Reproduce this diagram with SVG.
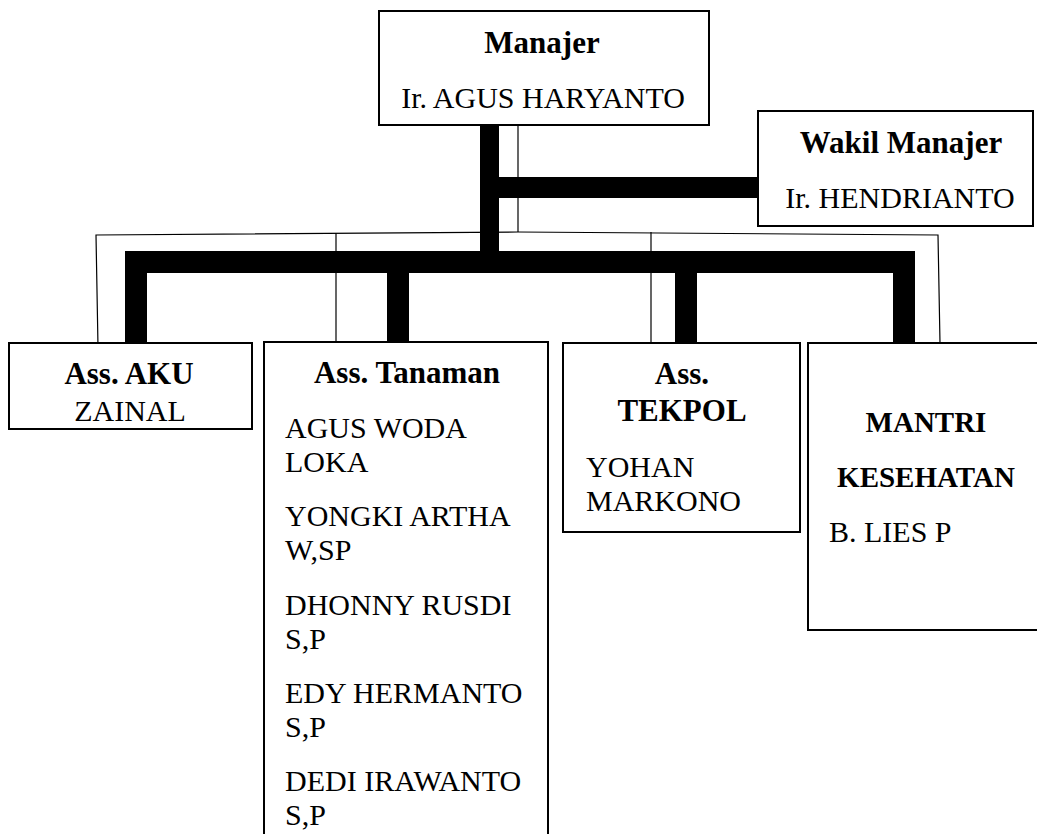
<svg xmlns="http://www.w3.org/2000/svg" width="1037" height="834" viewBox="0 0 1037 834">
<style>
.box{fill:#fff;stroke:#000;stroke-width:2}
.t{font-family:"Liberation Serif","Tinos","Times New Roman","Nimbus Roman","DejaVu Serif",serif;font-size:30px;font-weight:normal;font-style:normal;fill:#000}
.b{font-weight:bold;font-size:31px}
.c{text-anchor:middle}
.thin{fill:none;stroke:#000;stroke-width:1.2}
.thick{fill:#000;stroke:none}
</style>
<rect width="1037" height="834" fill="#fff"/>
<g id="connectors">
<path class="thin" d="M98,347 L96,235 L518,232 L938,235 L940,343"/>
<path class="thin" d="M518,125 L518,232"/>
<path class="thin" d="M336,233 L336,341"/>
<path class="thin" d="M651,232 L651,342"/>
<rect class="thick" x="480" y="125" width="19" height="148"/>
<rect class="thick" x="499" y="177" width="259" height="21"/>
<rect class="thick" x="125" y="251" width="790" height="22"/>
<rect class="thick" x="125" y="251" width="22" height="92"/>
<rect class="thick" x="387" y="251" width="22" height="92"/>
<rect class="thick" x="675" y="251" width="22" height="96"/>
<rect class="thick" x="893" y="251" width="22" height="92"/>
</g>
<g id="manajer">
<rect class="box" x="379" y="11" width="330" height="114"/>
<text class="t b c" x="542" y="53">Manajer</text>
<text class="t c" x="543" y="108">Ir. AGUS HARYANTO</text>
</g>
<g id="wakil">
<rect class="box" x="758" y="111" width="275" height="115"/>
<text class="t b c" x="901" y="153">Wakil Manajer</text>
<text class="t c" x="900" y="208">Ir. HENDRIANTO</text>
</g>
<g id="aku">
<rect class="box" x="9" y="343" width="243" height="86"/>
<text class="t b c" x="129" y="384">Ass. AKU</text>
<text class="t c" x="130" y="421">ZAINAL</text>
</g>
<g id="tanaman">
<rect class="box" x="264" y="342" width="284" height="510"/>
<text class="t b c" x="407" y="383">Ass. Tanaman</text>
<text class="t" x="285" y="438">AGUS WODA</text>
<text class="t" x="285" y="472">LOKA</text>
<text class="t" x="285" y="526">YONGKI ARTHA</text>
<text class="t" x="285" y="560">W,SP</text>
<text class="t" x="285" y="615">DHONNY RUSDI</text>
<text class="t" x="285" y="649">S,P</text>
<text class="t" x="285" y="703">EDY HERMANTO</text>
<text class="t" x="285" y="737">S,P</text>
<text class="t" x="285" y="791">DEDI IRAWANTO</text>
<text class="t" x="285" y="825">S,P</text>
</g>
<g id="tekpol">
<rect class="box" x="563" y="343" width="237" height="189"/>
<text class="t b c" x="682" y="384">Ass.</text>
<text class="t b c" x="682" y="421">TEKPOL</text>
<text class="t" x="586" y="477">YOHAN</text>
<text class="t" x="586" y="511">MARKONO</text>
</g>
<g id="mantri">
<rect class="box" x="808" y="343" width="240" height="287"/>
<text class="t b c" x="926" y="432" style="font-size:29px">MANTRI</text>
<text class="t b c" x="926" y="487" style="font-size:29px">KESEHATAN</text>
<text class="t" x="829" y="542">B. LIES P</text>
</g>
</svg>
